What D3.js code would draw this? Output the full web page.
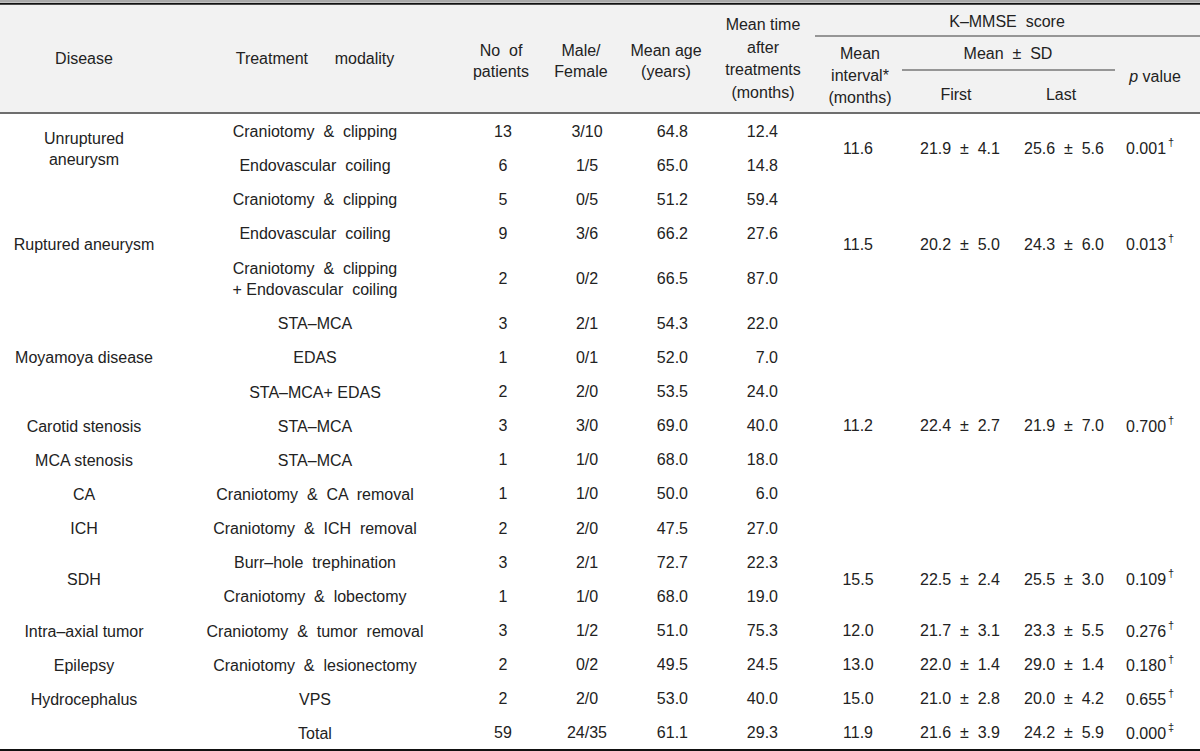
<!DOCTYPE html>
<html><head><meta charset="utf-8">
<script src="https://cdn.jsdelivr.net/npm/d3@7"></script>
<style>
body{margin:0;background:#fff}
text{font-family:"Liberation Sans",Arial,sans-serif;font-size:16px;fill:#222;white-space:pre}
</style>
</head><body>
<svg id="c" width="1200" height="751"></svg>
<script>
// ---------- data ----------
const treatments = [["Craniotomy  &  clipping"],["Endovascular  coiling"],["Craniotomy  &  clipping"],["Endovascular  coiling"],["Craniotomy  &  clipping","+ Endovascular  coiling"],["STA\u2013MCA"],["EDAS"],["STA\u2013MCA+ EDAS"],["STA\u2013MCA"],["STA\u2013MCA"],["Craniotomy  &  CA  removal"],["Craniotomy  &  ICH  removal"],["Burr\u2013hole  trephination"],["Craniotomy  &  lobectomy"],["Craniotomy  &  tumor  removal"],["Craniotomy  &  lesionectomy"],["VPS"],["Total"]];
const nPatients = [13,6,5,9,2,3,1,2,3,1,1,2,3,1,3,2,2,59];
const males     = [3,1,0,3,0,2,0,2,3,1,1,2,2,1,1,0,2,24];
const females   = [10,5,5,6,2,1,1,0,0,0,0,0,1,0,2,2,0,35];
const meanAge   = [64.8,65.0,51.2,66.2,66.5,54.3,52.0,53.5,69.0,68.0,50.0,47.5,72.7,68.0,51.0,49.5,53.0,61.1];
const meanTime  = [12.4,14.8,59.4,27.6,87.0,22.0,7.0,24.0,40.0,18.0,6.0,27.0,22.3,19.0,75.3,24.5,40.0,29.3];

const diseaseNames = [["Unruptured","aneurysm"],["Ruptured aneurysm"],["Moyamoya disease"],["Carotid stenosis"],["MCA stenosis"],["CA"],["ICH"],["SDH"],["Intra\u2013axial tumor"],["Epilepsy"],["Hydrocephalus"]];
const diseaseRowCounts = [2,3,3,1,1,1,1,2,1,1,1];

const kmmseRowCounts = [2,3,7,2,1,1,1,1];
const meanInterval = [11.6,11.5,11.2,15.5,12.0,13.0,15.0,11.9];
const firstMean = [21.9,20.2,22.4,22.5,21.7,22.0,21.0,21.6];
const firstSD   = [4.1,5.0,2.7,2.4,3.1,1.4,2.8,3.9];
const lastMean  = [25.6,24.3,21.9,25.5,23.3,29.0,20.0,24.2];
const lastSD    = [5.6,6.0,7.0,3.0,5.5,1.4,4.2,5.9];
const pValues   = ["0.001","0.013","0.700","0.109","0.276","0.180","0.655","0.000"];
const pMarks    = ["\u2020","\u2020","\u2020","\u2020","\u2020","\u2020","\u2020","\u2021"];

// ---------- layout ----------
const svg = d3.select("#c");
const W = 1200;
const f1 = d3.format(".1f");
const col = {disease:84, treat:315, n:503, mf:587, age:688, time:778, interval:858, first:960, last:1064, p:1126};

// row units: two-line rows are taller
const units = treatments.map(t => 1 + 0.632*(t.length-1));
const cum = [0]; units.forEach(u => cum.push(cum[cum.length-1]+u));
const y = d3.scaleLinear().domain([0, cum[cum.length-1]]).range([114, 750]);
const rowMid = i => y((cum[i]+cum[i+1])/2);
const spanMid = (start, count) => y((cum[start]+cum[start+count])/2);

// header background and rules
svg.append("rect").attr("x",0).attr("y",5).attr("width",W).attr("height",108).attr("fill","#f2f2f2");
svg.append("line").attr("x1",0).attr("x2",W).attr("y1",1).attr("y2",1).attr("stroke","#555").attr("stroke-width",1);
svg.append("line").attr("x1",0).attr("x2",W).attr("y1",3.8).attr("y2",3.8).attr("stroke","#111").attr("stroke-width",2);
svg.append("line").attr("x1",0).attr("x2",W).attr("y1",113).attr("y2",113).attr("stroke","#6e6e6e").attr("stroke-width",2);
svg.append("line").attr("x1",815).attr("x2",W).attr("y1",36).attr("y2",36).attr("stroke","#777").attr("stroke-width",1.5);
svg.append("line").attr("x1",902).attr("x2",1115).attr("y1",70).attr("y2",70).attr("stroke","#777").attr("stroke-width",1.5);
svg.append("line").attr("x1",0).attr("x2",W).attr("y1",750).attr("y2",750).attr("stroke","#111").attr("stroke-width",2);

function multi(x, yc, lines, gap, anchor){
  const g = svg.append("text").attr("text-anchor",anchor||"middle").attr("dominant-baseline","central");
  const y0 = yc - gap*(lines.length-1)/2;
  lines.forEach((l,i)=> g.append("tspan").attr("x",x).attr("y",y0+i*gap).text(l));
  return g;
}

// header texts
multi(col.disease, 58, ["Disease"], 22);
multi(315, 58, ["Treatment      modality"], 22);
multi(501, 60, ["No  of","patients"], 21);
multi(581, 60, ["Male/","Female"], 21);
multi(666, 60, ["Mean age","(years)"], 21);
multi(763, 58, ["Mean time","after","treatments","(months)"], 22.5);
multi(1007, 21, ["K\u2013MMSE  score"], 22);
multi(1008, 53, ["Mean  \u00b1  SD"], 22);
multi(860, 75, ["Mean","interval*","(months)"], 22);
multi(956, 94, ["First"], 22);
multi(1061, 94, ["Last"], 22);
const pv = svg.append("text").attr("x",1155).attr("y",76).attr("text-anchor","middle").attr("dominant-baseline","central");
pv.append("tspan").attr("font-style","italic").text("p");
pv.append("tspan").text(" value");

// body rows
treatments.forEach((t,i)=>{
  const yc = rowMid(i);
  multi(col.treat, yc, t, 21);
  svg.append("text").attr("x",col.n).attr("y",yc).attr("text-anchor","middle").attr("dominant-baseline","central").text(nPatients[i]);
  svg.append("text").attr("x",col.mf).attr("y",yc).attr("text-anchor","middle").attr("dominant-baseline","central").text(males[i]+"/"+females[i]);
  svg.append("text").attr("x",col.age).attr("y",yc).attr("text-anchor","end").attr("dominant-baseline","central").text(f1(meanAge[i]));
  svg.append("text").attr("x",col.time).attr("y",yc).attr("text-anchor","end").attr("dominant-baseline","central").text(f1(meanTime[i]));
});

// disease labels
let start = 0;
diseaseNames.forEach((d,k)=>{
  multi(col.disease, spanMid(start, diseaseRowCounts[k]), d, 21);
  start += diseaseRowCounts[k];
});

// K-MMSE groups
start = 0;
kmmseRowCounts.forEach((c,k)=>{
  const yc = spanMid(start, c);
  svg.append("text").attr("x",col.interval).attr("y",yc).attr("text-anchor","middle").attr("dominant-baseline","central").text(f1(meanInterval[k]));
  svg.append("text").attr("x",col.first).attr("y",yc).attr("text-anchor","middle").attr("dominant-baseline","central").text(f1(firstMean[k])+"  \u00b1  "+f1(firstSD[k]));
  svg.append("text").attr("x",col.last).attr("y",yc).attr("text-anchor","middle").attr("dominant-baseline","central").text(f1(lastMean[k])+"  \u00b1  "+f1(lastSD[k]));
  const t = svg.append("text").attr("x",col.p).attr("y",yc).attr("text-anchor","start").attr("dominant-baseline","central");
  t.append("tspan").text(pValues[k]);
  t.append("tspan").attr("dx",2).attr("dy",-6).attr("font-size","11px").text(pMarks[k]);
  start += c;
});
</script>
</body></html>
